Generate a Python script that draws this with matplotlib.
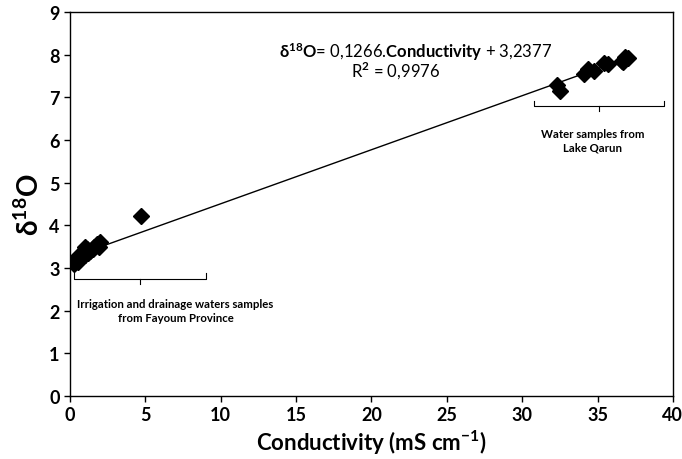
import matplotlib.pyplot as plt
import numpy as np

plt.rcParams['font.family'] = ['Lato', 'DejaVu Sans']
plt.rcParams['font.weight'] = 'bold'
plt.rcParams['mathtext.fontset'] = 'custom'
plt.rcParams['mathtext.rm'] = 'Lato'
plt.rcParams['mathtext.bf'] = 'Lato:bold'

# Irrigation and drainage waters (Fayoum Province)
fayoum_cond = [0.3, 0.4, 0.5, 0.6, 0.7, 0.8, 0.9, 1.0, 1.0, 1.1, 1.2, 1.3, 1.5, 1.6, 1.8, 1.9, 2.0, 4.7]
fayoum_d18o = [3.1, 3.2, 3.15, 3.3, 3.25, 3.35, 3.4, 3.3, 3.5, 3.45, 3.35, 3.4, 3.45, 3.5, 3.55, 3.5, 3.6, 4.22]

# Lake Qarun
lake_cond = [32.3, 32.5, 34.1, 34.4, 34.8, 35.4, 35.7, 36.6, 36.7, 36.8, 37.0]
lake_d18o = [7.28, 7.15, 7.55, 7.65, 7.62, 7.8, 7.78, 7.85, 7.82, 7.95, 7.92]

slope = 0.1266
intercept = 3.2377

fig = plt.figure(figsize=(6.82, 4.60), dpi=100)
ax = fig.add_axes([0.1026, 0.137, 0.884, 0.835])

x_all = np.array(fayoum_cond + lake_cond)
y_all = np.array(fayoum_d18o + lake_d18o)
xl = np.array([x_all.min(), x_all.max()])
ax.plot(xl, slope * xl + intercept, color='black', lw=1)
ax.plot(x_all, y_all, 'D', color='black', ms=8.5, mec='black')

ax.set_xlim(0, 40)
ax.set_ylim(0, 9)
ax.set_xticks(range(0, 41, 5))
ax.set_yticks(range(0, 10))
ax.tick_params(direction='out', length=4, width=1, labelsize=13)
for s in ax.spines.values():
    s.set_linewidth(1)

ax.set_xlabel('Conductivity (mS cm$^{\\mathbf{-1}}$)', fontsize=16, fontweight='bold', labelpad=3)
ax.set_ylabel('δ$^{\\mathbf{18}}$O', fontsize=20, fontweight='bold', labelpad=4)

# equation
ax.text(22.9, 8.09, '$\\mathbf{δ^{18}O}$= 0,1266.$\\mathbf{Conductivity}$ + 3,2377',
        fontsize=12, fontweight='normal', ha='center', va='center')
ax.text(21.6, 7.62, 'R$^{2}$ = 0,9976', fontsize=12, fontweight='normal',
        ha='center', va='center')

# brackets
def bracket(x0, x1, y, up=0.12, down=0.12):
    xm = (x0 + x1) / 2
    ax.plot([x0, x0, x1, x1], [y + up, y, y, y + up], color='black', lw=0.8)
    ax.plot([xm, xm], [y, y - down], color='black', lw=0.8)

bracket(0.3, 9.0, 2.75)
ax.text(7.0, 2.0, 'Irrigation and drainage waters samples\nfrom Fayoum Province',
        fontsize=8.2, fontweight='bold', ha='center', va='center', linespacing=1.3)

bracket(30.8, 39.4, 6.8)
ax.text(34.7, 6.0, 'Water samples from\nLake Qarun',
        fontsize=8.2, fontweight='bold', ha='center', va='center', linespacing=1.3)

fig.savefig('out.png', dpi=100)
